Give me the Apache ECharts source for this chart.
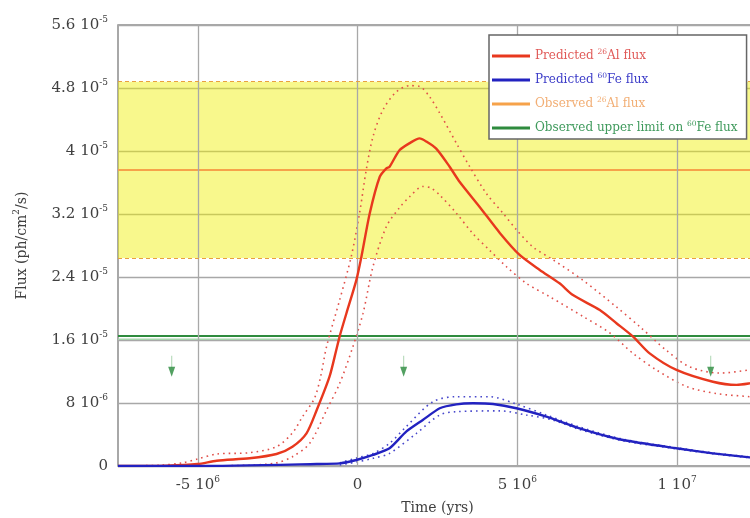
<!DOCTYPE html>
<html><head><meta charset="utf-8">
<script src="https://cdn.jsdelivr.net/npm/echarts@6/dist/echarts.min.js"></script>
<style>html,body{margin:0;padding:0;background:#fff}#c{width:750px;height:518px}</style>
</head><body><div id="c"></div>
<script>
// ---- data (time in Myr, flux in 1e-5 ph/cm2/s) ----
const redTime = [-7.5,-6.0,-5.01,-4.41,-3.38,-2.54,-2.04,-1.60,-1.28,-0.88,-0.67,-0.56,-0.35,-0.04,0.12,0.38,0.69,0.90,1.00,1.31,1.63,1.94,2.15,2.46,2.88,3.19,3.82,4.45,5.07,5.70,6.32,6.74,7.58,8.11,8.63,9.14,9.98,11.12,11.86,12.27,12.5];
const redFlux = [0,0.005,0.025,0.067,0.098,0.152,0.245,0.415,0.711,1.134,1.47,1.65,1.94,2.36,2.66,3.21,3.67,3.78,3.80,4.01,4.10,4.16,4.12,4.03,3.80,3.61,3.29,2.96,2.68,2.49,2.32,2.17,1.98,1.81,1.64,1.43,1.22,1.07,1.03,1.05,1.07];

const redUpTime = [-7.5,-6.2,-5.48,-5.01,-4.41,-3.38,-2.54,-2.04,-1.72,-1.35,-1.15,-0.97,-0.56,-0.20,0.06,0.27,0.48,0.79,1.21,1.63,1.94,2.25,2.57,3.09,3.51,4.03,4.55,4.97,5.49,6.11,7.05,8.10,8.83,9.66,10.39,11.33,12.27,12.5];
const redUpFlux = [0,0.01,0.04,0.089,0.152,0.169,0.245,0.42,0.63,0.86,1.15,1.52,2.11,2.66,3.21,3.76,4.18,4.52,4.75,4.83,4.82,4.69,4.48,4.10,3.80,3.46,3.21,3.00,2.78,2.62,2.36,2.02,1.77,1.47,1.26,1.18,1.22,1.24];

const redLoTime = [-5.0,-3.4,-2.54,-2.04,-1.50,-0.97,-0.56,-0.16,0.17,0.48,0.90,1.31,1.63,2.04,2.30,2.57,3.09,3.61,4.13,4.66,5.28,6.01,7.05,7.89,8.62,9.35,10.29,11.23,12.27,12.5];
const redLoFlux = [0,0.01,0.04,0.118,0.288,0.711,1.05,1.50,1.94,2.53,3.04,3.28,3.42,3.55,3.53,3.44,3.21,2.95,2.74,2.53,2.32,2.15,1.90,1.69,1.43,1.22,1.01,0.92,0.88,0.87];

const blueTime = [-7.5,-4.95,-1.28,-0.56,-0.04,0.48,1.00,1.52,2.04,2.57,3.09,3.61,4.24,4.97,5.91,6.95,8.31,9.98,11.12,12.27,12.5];
const blueFlux = [0,0,0.025,0.034,0.076,0.14,0.225,0.436,0.584,0.733,0.783,0.796,0.787,0.733,0.626,0.479,0.33,0.225,0.161,0.11,0.10];

const blueUpTime = [-0.56,-0.04,0.48,1.00,1.52,2.36,3.09,4.13,4.97,5.91,6.95,8.31,9.98,11.12,12.27,12.5];
const blueUpFlux = [0.04,0.10,0.16,0.288,0.50,0.817,0.88,0.88,0.787,0.648,0.495,0.34,0.232,0.167,0.115,0.105];

const blueLoTime = [-0.56,-0.04,0.48,1.00,1.84,2.57,3.09,4.45,5.28,6.11,6.95,8.31,9.98,11.12,12.27,12.5];
const blueLoFlux = [0.013,0.05,0.098,0.161,0.415,0.648,0.69,0.70,0.648,0.584,0.463,0.32,0.218,0.155,0.105,0.095];

const obsAlFlux = 3.76;      // observed 26Al flux
const obsAlBand = [2.64, 4.88]; // yellow band (low, high)
const obsFeLimit = 1.65;     // observed upper limit on 60Fe
const obsFeLimitLow = 1.61;
const arrowTime = [-5.82, 1.44, 11.05];
const arrowFlux = [1.26, 1.26, 1.26];

const xRange = [-7.5, 12.5];
const xTickValues = [-5, 0, 5, 10];
const xTickText = ['-5 10', '0', '5 10', '1 10'];
const xTickExp = ['6', '', '6', '7'];
const yTickValues = [0, 0.8, 1.6, 2.4, 3.2, 4.0, 4.8, 5.6];
const yTickText = ['0', '8 10', '1.6 10', '2.4 10', '3.2 10', '4 10', '4.8 10', '5.6 10'];
const yTickExp = ['', '-6', '-5', '-5', '-5', '-5', '-5', '-5'];

const seriesNames = ['Predicted 26Al flux', 'Predicted 60Fe flux', 'Observed 26Al flux', 'Observed upper limit on 60Fe flux'];
const legendParts = [['Predicted ', '26', 'Al flux'], ['Predicted ', '60', 'Fe flux'], ['Observed ', '26', 'Al flux'], ['Observed upper limit on ', '60', 'Fe flux']];

// ---- chart ----
const FONT = 'DejaVu Serif';
const zip = (a, b) => a.map((v, i) => [v, b[i]]);
const chart = echarts.init(document.getElementById('c'), null, {renderer: 'canvas'});

function tickFmt(values, texts, exps) {
  return function (v) {
    const i = values.findIndex(t => Math.abs(t - v) < 1e-6);
    if (i < 0) return '';
    return exps[i] ? `{a|${texts[i]}}{s|${exps[i]}}` : `{a|${texts[i]}}`;
  };
}
const tickRich = {
  a: {fontFamily: FONT, fontSize: 15, color: '#404040', lineHeight: 20},
  s: {fontFamily: FONT, fontSize: 9, color: '#404040', verticalAlign: 'top', lineHeight: 9}
};

const legendKeys = ['r', 'b', 'o', 'g'];
const legendColors = ['#e05a58', '#3c3cc8', '#f2ae74', '#3f9a5c'];
const legendRich = {};
legendKeys.forEach((k, i) => {
  legendRich[k] = {fontFamily: FONT, fontSize: 12, color: legendColors[i], lineHeight: 16};
  legendRich[k + 's'] = {fontFamily: FONT, fontSize: 7.5, color: legendColors[i], verticalAlign: 'top', lineHeight: 8};
});

const RED = '#e8381e', RED_DOT = '#e0504a', BLUE = '#2222c0', BLUE_DOT = '#4848cc';
const ORANGE = '#f6a24a', GREEN = '#2e8b3e';

const option = {
  animation: false,
  backgroundColor: '#fff',
  grid: {left: 118, right: -7, top: 25, bottom: 52, outerBoundsMode: 'none', containLabel: false,
    show: true, borderColor: '#8c8c8c', borderWidth: 1.5, backgroundColor: 'transparent'},
  legend: {
    data: seriesNames, z: 20,
    orient: 'vertical', left: 489, top: 35,
    padding: [13, 9, 5, 3], itemGap: 10, itemWidth: 38, itemHeight: 3, icon: 'rect',
    backgroundColor: '#fff', borderColor: '#666', borderWidth: 1.5,
    selectedMode: false,
    formatter: function (name) {
      const i = seriesNames.indexOf(name), k = legendKeys[i], p = legendParts[i];
      return `{${k}|${p[0]}}{${k}s|${p[1]}}{${k}|${p[2]}}`;
    },
    textStyle: {fontSize: 12, rich: legendRich}
  },
  xAxis: {
    type: 'value', min: xRange[0], max: xRange[1], interval: 2.5,
    name: 'Time (yrs)', nameLocation: 'middle', nameGap: 35,
    nameTextStyle: {fontFamily: FONT, fontSize: 14, color: '#404040'},
    axisLine: {show: false}, axisTick: {show: false}, splitLine: {show: false},
    axisLabel: {margin: 9, formatter: tickFmt(xTickValues, xTickText, xTickExp), rich: tickRich, showMinLabel: false, showMaxLabel: false}
  },
  yAxis: {
    type: 'value', min: 0, max: 5.6, interval: 0.8,
    name: '{n|Flux (ph/cm}{s|2}{n|/s)}', nameLocation: 'middle', nameGap: 86, nameRotate: 90,
    nameTextStyle: {rich: {
      n: {fontFamily: FONT, fontSize: 14, color: '#404040', lineHeight: 20},
      s: {fontFamily: FONT, fontSize: 9, color: '#404040', verticalAlign: 'top', lineHeight: 9}
    }},
    axisLine: {show: false}, axisTick: {show: false},
    splitLine: {show: true, lineStyle: {color: '#a8a8a8', width: 1.3}},
    axisLabel: {margin: 10, formatter: tickFmt(yTickValues, yTickText, yTickExp), rich: tickRich}
  },
  series: [
    { // vertical grid lines + yellow observed band
      type: 'line', data: [], silent: true, z: 1,
      markArea: {silent: true, itemStyle: {color: 'rgba(240,240,0,0.45)'},
        data: [[{yAxis: obsAlBand[0]}, {yAxis: obsAlBand[1]}]]},
      markLine: {silent: true, symbol: 'none', label: {show: false},
        lineStyle: {color: '#a8a8a8', width: 1.3, type: 'solid'},
        data: xTickValues.map(v => ({xAxis: v}))}
    },
    {
      type: 'line', data: [], silent: true, z: 2,
      markLine: {silent: true, symbol: 'none', label: {show: false},
        lineStyle: {color: '#e8a040', width: 1, type: [4, 3]},
        data: obsAlBand.map(v => ({yAxis: v}))}
    },
    {name: seriesNames[2], type: 'line', data: [[xRange[0], obsAlFlux], [xRange[1], obsAlFlux]],
      showSymbol: false, color: ORANGE, lineStyle: {width: 2}, z: 3},
    {type: 'line', data: [[xRange[0], obsFeLimitLow], [xRange[1], obsFeLimitLow]],
      showSymbol: false, color: '#a6d4ac', lineStyle: {width: 1.5}, z: 3},
    {name: seriesNames[3], type: 'line', data: [[xRange[0], obsFeLimit], [xRange[1], obsFeLimit]],
      showSymbol: false, color: GREEN, lineStyle: {width: 2}, z: 3},
    {type: 'line', data: zip(redUpTime, redUpFlux), showSymbol: false, smooth: 0.3,
      color: RED_DOT, lineStyle: {width: 1.6, type: [1.6, 4]}, z: 4},
    {type: 'line', data: zip(redLoTime, redLoFlux), showSymbol: false, smooth: 0.3,
      color: RED_DOT, lineStyle: {width: 1.6, type: [1.6, 4]}, z: 4},
    {name: seriesNames[0], type: 'line', data: zip(redTime, redFlux), showSymbol: false, smooth: 0.25,
      color: RED, lineStyle: {width: 2.4}, z: 5},
    {type: 'line', data: zip(blueUpTime, blueUpFlux), showSymbol: false, smooth: 0.3,
      color: BLUE_DOT, lineStyle: {width: 1.6, type: [1.6, 4]}, z: 4},
    {type: 'line', data: zip(blueLoTime, blueLoFlux), showSymbol: false, smooth: 0.3,
      color: BLUE_DOT, lineStyle: {width: 1.6, type: [1.6, 4]}, z: 4},
    {name: seriesNames[1], type: 'line', data: zip(blueTime, blueFlux), showSymbol: false, smooth: 0.2,
      color: BLUE, lineStyle: {width: 2.4}, z: 5},
    {type: 'scatter', data: zip(arrowTime, arrowFlux), symbol: 'rect', symbolSize: [1.2, 12],
      symbolOffset: [0, -5], itemStyle: {color: '#a9d3ae'}, silent: true, z: 6},
    {type: 'scatter', data: zip(arrowTime, arrowFlux), symbol: 'path://M0,0 L10,0 L5,10 Z', symbolSize: [7, 10],
      symbolOffset: [0, 5], itemStyle: {color: '#27883a'}, silent: true, z: 6}
  ]
};
chart.setOption(option);
</script></body></html>
